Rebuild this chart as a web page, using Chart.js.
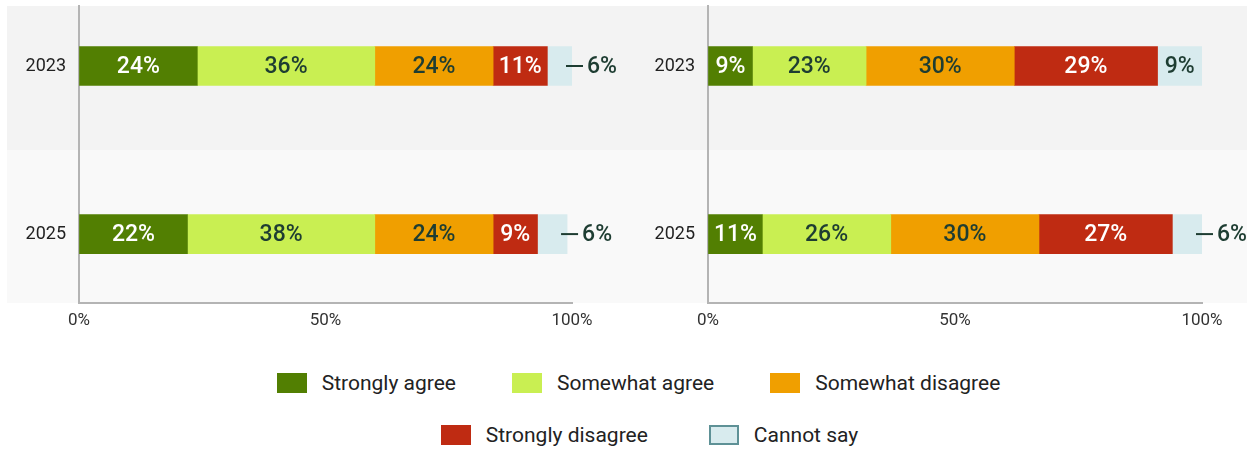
<!DOCTYPE html>
<html>
<head>
<meta charset="utf-8">
<script src="https://cdn.jsdelivr.net/npm/chart.js@4.4.1/dist/chart.umd.min.js"></script>
<style>
  body { margin: 0; background: #fff; width: 1257px; height: 450px; overflow: hidden; font-family: Roboto, sans-serif; }
  .panel { position: absolute; top: 0; height: 335px; }
  #leftBox { left: 0; width: 630px; }
  #rightBox { left: 630px; width: 627px; }
  .row { position: absolute; width: 1237px; height: 40px; display: flex; justify-content: center; align-items: center; gap: 56px; }
  .item { display: flex; align-items: center; font-size: 21px; color: #222; }
  .swatch { width: 30px; height: 20px; margin-right: 15px; box-sizing: border-box; }
</style>
</head>
<body>
<div class="panel" id="leftBox"><canvas id="chartLeft"></canvas></div>
<div class="panel" id="rightBox"><canvas id="chartRight"></canvas></div>
<div class="row" id="legendRow1" style="top:363px; left:20px"></div>
<div class="row" id="legendRow2" style="top:415px; left:31px; gap:61px"></div>

<script>
const years = ['2023', '2025'];
const seriesNames = ['Strongly agree', 'Somewhat agree', 'Somewhat disagree', 'Strongly disagree', 'Cannot say'];
const seriesColors = ['#527f02', '#c9ef52', '#f09f00', '#bf2b12', '#d8ebee'];
const textColors = ['#ffffff', '#1e3d32', '#1e3d32', '#ffffff', '#1e3d32'];
const bandColors = ['#f3f3f3', '#f9f9f9'];
const xTicks = [0, 50, 100];

// left panel
const leftStronglyAgree = [24, 22];
const leftSomewhatAgree = [36, 38];
const leftSomewhatDisagree = [24, 24];
const leftStronglyDisagree = [11, 9];
const leftCannotSay = [6, 6];

// right panel
const rightStronglyAgree = [9, 11];
const rightSomewhatAgree = [23, 26];
const rightSomewhatDisagree = [30, 30];
const rightStronglyDisagree = [29, 27];
const rightCannotSay = [9, 6];

const darkText = '#1e3d32';
const axisGray = '#b4b4b4';

// grey row bands behind each year, split halfway between the two years
const bandPlugin = {
  id: 'bands',
  beforeDraw(chart, args, opts) {
    const { ctx, chartArea: a, scales: { y } } = chart;
    const split = y.getPixelForValue((+years[0] + +years[1]) / 2);
    const x1 = opts.x1 || chart.width;
    ctx.save();
    ctx.fillStyle = bandColors[0];
    ctx.fillRect(opts.x0, a.top, x1 - opts.x0, split - a.top);
    ctx.fillStyle = bandColors[1];
    ctx.fillRect(opts.x0, split, x1 - opts.x0, a.bottom - split);
    ctx.restore();
  }
};

const valueLabels = {
  id: 'valueLabels',
  afterDatasetsDraw(chart) {
    const { ctx, chartArea } = chart;
    ctx.save();
    ctx.font = '500 23px Roboto';
    ctx.textBaseline = 'middle';
    chart.data.datasets.forEach((ds, di) => {
      chart.getDatasetMeta(di).data.forEach((bar, i) => {
        const v = ds.data[i];
        const right = Math.min(bar.x, chartArea.right);
        if (v >= 8) {
          ctx.fillStyle = textColors[di];
          ctx.textAlign = 'center';
          ctx.fillText(v + '%', (bar.base + right) / 2, bar.y + 1);
        } else {
          // small segment: dash + label outside
          ctx.strokeStyle = darkText;
          ctx.lineWidth = 2;
          ctx.beginPath();
          ctx.moveTo(right - 6, bar.y);
          ctx.lineTo(right + 11, bar.y);
          ctx.stroke();
          ctx.fillStyle = darkText;
          ctx.textAlign = 'left';
          ctx.fillText(v + '%', right + 15, bar.y + 1);
        }
      });
    });
    ctx.restore();
  }
};

function makeChart(id, values, yWidth, padRight, band) {
  const ctx = document.getElementById(id).getContext('2d');
  return new Chart(ctx, {
    type: 'bar',
    data: {
      labels: years,
      datasets: values.map((d, i) => ({
        label: seriesNames[i], data: d, backgroundColor: seriesColors[i],
        borderWidth: 0, barThickness: 39
      }))
    },
    options: {
      indexAxis: 'y',
      responsive: true, maintainAspectRatio: false, animation: false,
      layout: { padding: { top: 6, right: padRight, left: 0, bottom: 0 } },
      plugins: { legend: { display: false }, tooltip: { enabled: false }, bands: band },
      scales: {
        x: {
          stacked: true, min: 0, max: 100,
          afterBuildTicks: s => { s.ticks = xTicks.map(v => ({ value: v })); },
          afterFit: s => { s.height = 32; },
          grid: { display: true, color: 'rgba(0,0,0,0)', drawTicks: false },
          border: { display: true, color: axisGray, width: 2 },
          ticks: { callback: v => v + '%', color: '#333', padding: 8, maxRotation: 0, font: { family: 'Roboto', size: 17 } }
        },
        y: {
          type: 'linear', stacked: true, reverse: true, offset: false,
          min: 2022.286, max: 2025.82,
          afterBuildTicks: s => { s.ticks = years.map(v => ({ value: +v })); },
          afterFit: s => { s.width = yWidth; s.paddingTop = 0; s.paddingBottom = 0; },
          grid: { display: true, color: 'rgba(0,0,0,0)', drawTicks: false },
          border: { display: true, color: axisGray, width: 2 },
          ticks: { callback: v => String(v), color: '#222', padding: 13, font: { family: 'Roboto', size: 18 } }
        }
      }
    },
    plugins: [bandPlugin, valueLabels]
  });
}

makeChart('chartLeft',
  [leftStronglyAgree, leftSomewhatAgree, leftSomewhatDisagree, leftStronglyDisagree, leftCannotSay],
  79, 58, { x0: 7 });
makeChart('chartRight',
  [rightStronglyAgree, rightSomewhatAgree, rightSomewhatDisagree, rightStronglyDisagree, rightCannotSay],
  78, 55, { x0: 0, x1: 617 });

function legendItem(i) {
  const border = i === 4 ? 'border:2px solid #5e9196;' : '';
  return `<div class="item"><span class="swatch" style="background:${seriesColors[i]};${border}"></span>${seriesNames[i]}</div>`;
}
document.getElementById('legendRow1').innerHTML = [0, 1, 2].map(legendItem).join('');
document.getElementById('legendRow2').innerHTML = [3, 4].map(legendItem).join('');
</script>
</body>
</html>
